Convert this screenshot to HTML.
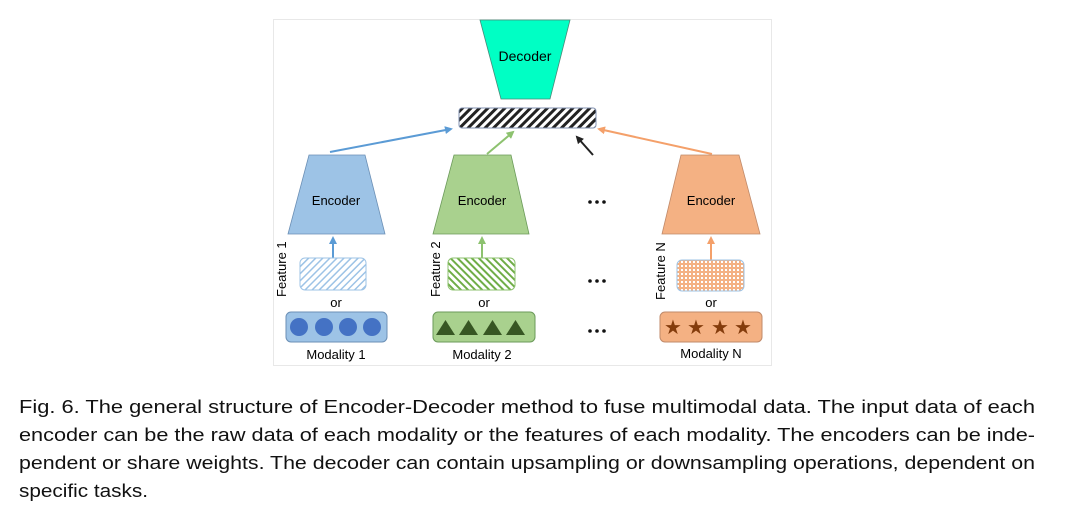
<!DOCTYPE html>
<html><head><meta charset="utf-8"><style>html,body{margin:0;padding:0;background:#fff}svg{display:block}</style></head><body>
<svg width="1080" height="507" viewBox="0 0 1080 507" xmlns="http://www.w3.org/2000/svg" font-family="Liberation Sans, sans-serif">
<defs>
<pattern id="hb" width="6" height="6" patternUnits="userSpaceOnUse" patternTransform="rotate(45)"><rect width="6" height="6" fill="#fff"/><rect width="3" height="6" fill="#222"/></pattern>
<pattern id="hblue" width="5" height="5" patternUnits="userSpaceOnUse" patternTransform="rotate(45)"><rect width="5" height="5" fill="#fff"/><rect width="1.5" height="5" fill="#9dc3e6"/></pattern>
<pattern id="hgreen" width="5" height="5" patternUnits="userSpaceOnUse" patternTransform="rotate(-45)"><rect width="5" height="5" fill="#fff"/><rect width="2" height="5" fill="#70ad47"/></pattern>
<pattern id="dots" width="4" height="4" patternUnits="userSpaceOnUse"><rect width="4" height="4" fill="#f4b183"/><rect x="1" y="1" width="2" height="2" fill="#fff"/></pattern>
<marker id="ab" markerWidth="8" markerHeight="8" refX="6" refY="4" orient="auto" markerUnits="userSpaceOnUse"><path d="M0,0 L8,4 L0,8z" fill="#5b9bd5"/></marker>
<marker id="ag" markerWidth="8" markerHeight="8" refX="6" refY="4" orient="auto" markerUnits="userSpaceOnUse"><path d="M0,0 L8,4 L0,8z" fill="#8dc26f"/></marker>
<marker id="ao" markerWidth="8" markerHeight="8" refX="6" refY="4" orient="auto" markerUnits="userSpaceOnUse"><path d="M0,0 L8,4 L0,8z" fill="#f4a06a"/></marker>
<marker id="ak" markerWidth="8" markerHeight="8" refX="6" refY="4" orient="auto" markerUnits="userSpaceOnUse"><path d="M0,0 L8,4 L0,8z" fill="#222"/></marker>
</defs>
<rect x="273.5" y="19.5" width="498" height="346" fill="#fff" stroke="#e8e8e8"/>
<polygon points="480,20 570,20 550,99 501,99" fill="#00ffc4" stroke="#4a8a7a" stroke-width="0.8"/>
<text x="525" y="61" font-size="14" text-anchor="middle">Decoder</text>
<rect x="459" y="108" width="137" height="20" rx="3" fill="url(#hb)" stroke="#8090b0"/>
<line x1="330" y1="152" x2="451" y2="129" stroke="#5b9bd5" stroke-width="2" marker-end="url(#ab)"/>
<line x1="487" y1="154" x2="513" y2="132" stroke="#8dc26f" stroke-width="2" marker-end="url(#ag)"/>
<line x1="593" y1="155" x2="577" y2="137" stroke="#222" stroke-width="2" marker-end="url(#ak)"/>
<line x1="712" y1="154" x2="599" y2="129" stroke="#f4a06a" stroke-width="2" marker-end="url(#ao)"/>
<polygon points="309,155 365,155 385,234 288,234" fill="#9dc3e6" stroke="#6b8fb5" stroke-width="0.8"/>
<polygon points="454,155 511,155 529,234 433,234" fill="#a9d18e" stroke="#6b9a5a" stroke-width="0.8"/>
<polygon points="681,155 739,155 760,234 662,234" fill="#f4b183" stroke="#c08a6a" stroke-width="0.8"/>
<text x="336" y="205" font-size="13" text-anchor="middle">Encoder</text>
<text x="482" y="205" font-size="13" text-anchor="middle">Encoder</text>
<text x="711" y="205" font-size="13" text-anchor="middle">Encoder</text>
<line x1="333" y1="258" x2="333" y2="238" stroke="#5b9bd5" stroke-width="2" marker-end="url(#ab)"/>
<line x1="482" y1="258" x2="482" y2="238" stroke="#8dc26f" stroke-width="2" marker-end="url(#ag)"/>
<line x1="711" y1="260" x2="711" y2="238" stroke="#f4a06a" stroke-width="2" marker-end="url(#ao)"/>
<rect x="300" y="258" width="66" height="32" rx="5" fill="url(#hblue)" stroke="#9dc3e6"/>
<rect x="448" y="258" width="67" height="32" rx="5" fill="url(#hgreen)" stroke="#8dc26f"/>
<rect x="677" y="260" width="67" height="31" rx="5" fill="url(#dots)" stroke="#9dc3e6"/>
<text transform="translate(286,297) rotate(-90)" font-size="13">Feature 1</text>
<text transform="translate(440,297) rotate(-90)" font-size="13">Feature 2</text>
<text transform="translate(665,300) rotate(-90)" font-size="13">Feature N</text>
<text x="336" y="307" font-size="13" text-anchor="middle">or</text>
<text x="484" y="307" font-size="13" text-anchor="middle">or</text>
<text x="711" y="307" font-size="13" text-anchor="middle">or</text>
<rect x="286" y="312" width="101" height="30" rx="5" fill="#9dc3e6" stroke="#6b8fb5"/>
<g fill="#4472c4"><circle cx="299" cy="327" r="9"/><circle cx="324" cy="327" r="9"/><circle cx="348" cy="327" r="9"/><circle cx="372" cy="327" r="9"/></g>
<rect x="433" y="312" width="102" height="30" rx="5" fill="#a9d18e" stroke="#6b9a5a"/>
<g fill="#375623"><polygon points="436,335 445.5,320 455,335"/><polygon points="459,335 468.5,320 478,335"/><polygon points="483,335 492.5,320 502,335"/><polygon points="506,335 515.5,320 525,335"/></g>
<rect x="660" y="312" width="102" height="30" rx="5" fill="#f4b183" stroke="#c08a6a"/>
<g fill="#843c0c" font-size="20" text-anchor="middle"><text x="673" y="334">★</text><text x="696" y="334">★</text><text x="720" y="334">★</text><text x="743" y="334">★</text></g>
<text x="336" y="359" font-size="13" text-anchor="middle">Modality 1</text>
<text x="482" y="359" font-size="13" text-anchor="middle">Modality 2</text>
<text x="711" y="358" font-size="13" text-anchor="middle">Modality N</text>
<g fill="#111"><circle cx="590" cy="202" r="1.8"/><circle cx="597" cy="202" r="1.8"/><circle cx="604" cy="202" r="1.8"/>
<circle cx="590" cy="281" r="1.8"/><circle cx="597" cy="281" r="1.8"/><circle cx="604" cy="281" r="1.8"/>
<circle cx="590" cy="331" r="1.8"/><circle cx="597" cy="331" r="1.8"/><circle cx="604" cy="331" r="1.8"/></g>
<g font-size="18" fill="#111">
<text x="19" y="413" textLength="1016" lengthAdjust="spacingAndGlyphs">Fig. 6.  The general structure of Encoder-Decoder method to fuse multimodal data. The input data of each</text>
<text x="19" y="441" textLength="1016" lengthAdjust="spacingAndGlyphs">encoder can be the raw data of each modality or the features of each modality. The encoders can be inde-</text>
<text x="19" y="469" textLength="1016" lengthAdjust="spacingAndGlyphs">pendent or share weights. The decoder can contain upsampling or downsampling operations, dependent on</text>
<text x="19" y="497" textLength="129" lengthAdjust="spacingAndGlyphs">specific tasks.</text>
</g>
</svg>
</body></html>
